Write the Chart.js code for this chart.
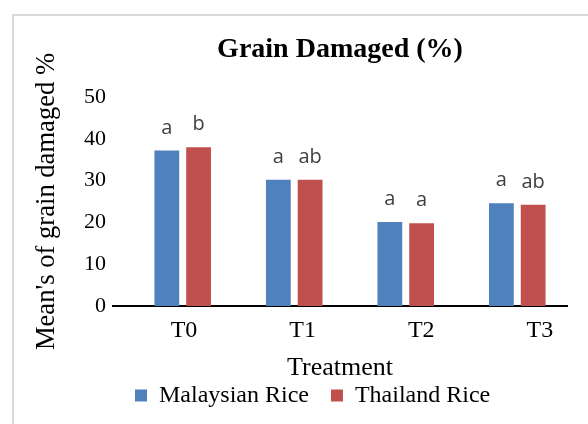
<!DOCTYPE html>
<html>
<head>
<meta charset="utf-8">
<script src="https://cdn.jsdelivr.net/npm/chart.js@4/dist/chart.umd.min.js"></script>
<style>
  html, body { margin: 0; padding: 0; background: #fff; }
  #wrap  { position: relative; width: 588px; height: 424px; overflow: hidden; }
  #frame { position: absolute; left: 12px; top: 14px; width: 620px; height: 460px;
           border-left: 2px solid #d9d9d9; border-top: 2px solid #d9d9d9; }
  #chart { position: absolute; left: 0; top: 0; }
</style>
</head>
<body>
<div id="wrap">
  <div id="frame"></div>
  <canvas id="chart" width="588" height="424"></canvas>
</div>
<script>
// ── DATA ─────────────────────────────────────────────
var categories       = ['T0', 'T1', 'T2', 'T3'];
var malaysianRice    = [37.2, 30.2, 20.1, 24.6];
var thailandRice     = [38.0, 30.2, 19.8, 24.2];
var malaysianLetters = ['a', 'a', 'a', 'a'];
var thailandLetters  = ['b', 'ab', 'a', 'ab'];
var yTicks           = [0, 10, 20, 30, 40, 50];

(function () {
  'use strict';

  var SERIF = "'Times New Roman', 'Liberation Serif', serif";
  var SANS  = "'Open Sans', 'DejaVu Sans', sans-serif";

  function toPoints(arr) {
    return arr.map(function (v, i) { return { x: i, y: v }; });
  }
  function indexTicks(s) {
    s.ticks = categories.map(function (c, i) { return { value: i }; });
  }

  // ── LETTERS OVER BARS ────────────────────────────────
  var lettersPlugin = {
    id: 'letters',
    afterDatasetsDraw: function (chart) {
      var ctx = chart.ctx;
      ctx.save();
      ctx.font = '20px ' + SANS;
      ctx.fillStyle = '#404040';
      ctx.textAlign = 'center';
      ctx.textBaseline = 'alphabetic';
      chart.data.datasets.forEach(function (ds, di) {
        chart.getDatasetMeta(di).data.forEach(function (bar, i) {
          ctx.fillText(ds.letters[i], bar.x, bar.y - 17);
        });
      });
      ctx.restore();
    }
  };

  new Chart(document.getElementById('chart').getContext('2d'), {
    type: 'bar',
    data: {
      datasets: [
        {
          label: 'Malaysian Rice',
          data: toPoints(malaysianRice),
          letters: malaysianLetters,
          backgroundColor: '#4f81bd',
          borderWidth: 0,
          xAxisID: 'x'
        },
        {
          label: 'Thailand Rice',
          data: toPoints(thailandRice),
          letters: thailandLetters,
          backgroundColor: '#c0504d',
          borderWidth: 0,
          xAxisID: 'x'
        }
      ]
    },
    options: {
      responsive: false,
      animation: false,
      barPercentage: 0.78,
      categoryPercentage: 0.57,
      layout: { padding: { left: 0, right: 21, top: 0, bottom: 6.4 } },
      plugins: {
        tooltip: { enabled: false },
        title: {
          display: true,
          text: 'Grain Damaged (%)',
          color: '#000',
          fullSize: false,
          font: { family: SERIF, size: 28, weight: 'bold' },
          padding: { top: 32.7, bottom: 30.7 }
        },
        legend: {
          position: 'bottom',
          align: 'start',
          fullSize: false,
          labels: {
            color: '#000',
            font: { family: SERIF, size: 24 },
            boxWidth: 12,
            boxHeight: 12,
            padding: 22
          }
        }
      },
      scales: {
        // bar positions
        x: {
          type: 'linear', axis: 'x', display: false, offset: false,
          min: -0.625, max: 3.446,
          afterBuildTicks: indexTicks
        },
        // category labels + baseline
        xt: {
          type: 'linear',
          axis: 'x',
          position: 'bottom',
          offset: false,
          min: -0.598,
          max: 3.228,
          z: 1,
          afterBuildTicks: indexTicks,
          afterFit: function (s) { s.height = 55.6; },
          grid: { display: false, drawTicks: false, offset: false },
          border: { display: true, color: '#000', width: 2 },
          ticks: {
            color: '#000',
            font: { family: SERIF, size: 24 },
            padding: 10,
            autoSkip: false,
            maxRotation: 0,
            callback: function (v) { return categories[v]; }
          },
          title: {
            display: true,
            text: 'Treatment',
            color: '#000',
            font: { family: SERIF, size: 26 },
            padding: { top: 0, bottom: -21.7 }
          }
        },
        y: {
          min: yTicks[0],
          max: yTicks[yTicks.length - 1],
          afterBuildTicks: function (s) {
            s.ticks = yTicks.map(function (v) { return { value: v }; });
          },
          afterFit: function (s) { s.width = 113; },
          grid: { display: false, drawTicks: false },
          border: { display: false },
          ticks: { color: '#000', font: { family: SERIF, size: 22 }, padding: 7 },
          title: {
            display: true,
            text: "Mean's of grain damaged %",
            color: '#000',
            font: { family: SERIF, size: 26.6 },
            padding: { top: 31.2, bottom: 0 }
          }
        }
      }
    },
    plugins: [lettersPlugin]
  });
})();
</script>
</body>
</html>
